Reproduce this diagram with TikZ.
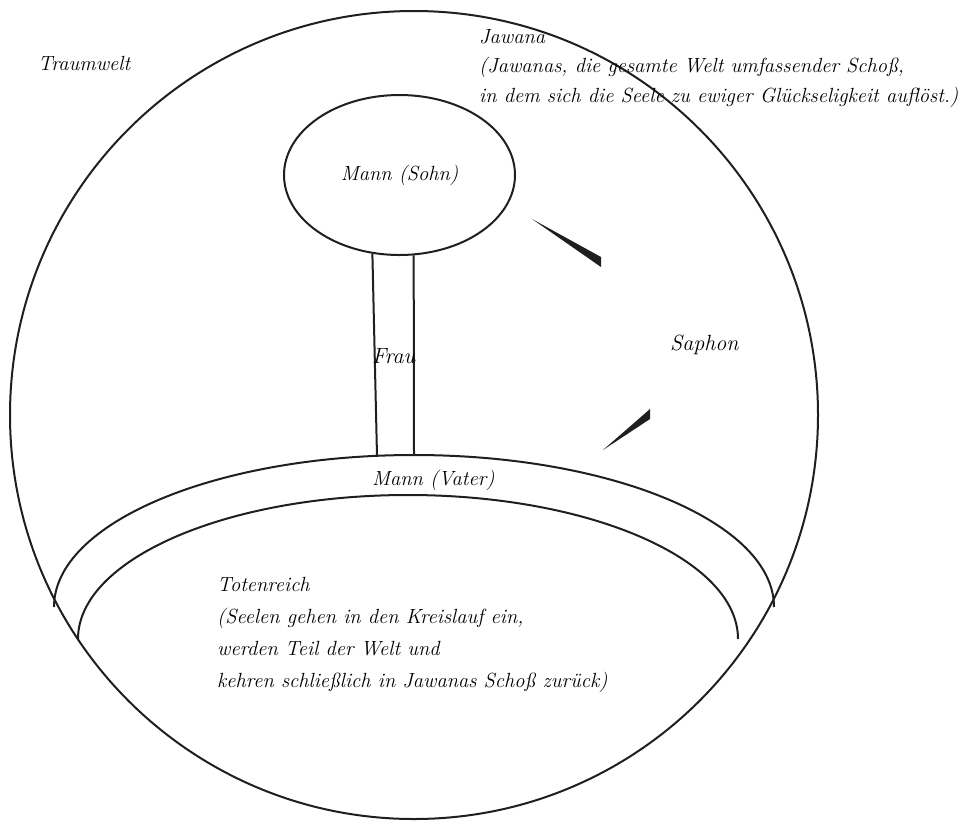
\documentclass[tikz,border=0pt]{standalone}
\usetikzlibrary{shapes.geometric}

\begin{document}
\begin{tikzpicture}[
    x=1pt, y=-1pt,
    rand/.style={draw=black!88, line width=2pt},
    schrift/.style={font=\fontsize{20.5}{30}\selectfont\itshape, inner sep=0pt,
                    align=left, text=black},
    kugel/.style={rand, ellipse, inner sep=0pt, minimum width=231pt,
                  minimum height=160pt},
    keil/.style={fill=black!88, draw=none},
]
\useasboundingbox (0,0) rectangle (971,820);
\draw[rand] (414,415) circle[radius=404pt];
\node[kugel, schrift] (sohn) at (399.5,175) {Mann (Sohn)};
\coordinate (bogenL) at (54,607);
\coordinate (innenL) at (78,639);
\draw[rand] (bogenL) arc[start angle=180, end angle=0, x radius=360pt, y radius=152pt];
\draw[rand] (innenL) arc[start angle=180, end angle=0, x radius=330pt, y radius=144pt];
\coordinate (fussL) at (377,456);
\coordinate (fussR) at (414,455);
\draw[rand] (sohn.251) -- (fussL);
\draw[rand] (sohn.280) -- (fussR);
\fill[keil] (532,219) -- (601,257) -- (601,267) -- cycle;
\fill[keil] (603,450) -- (650,409) -- (650,419) -- cycle;
\node[schrift, anchor=base west] (traum) at (38,70) {Traumwelt};
\node[schrift, anchor=north west, font=\fontsize{20.5}{29.5}\selectfont\itshape]
   (jawana) at (479,29)
   {Jawana\\ (Jawanas, die gesamte Welt umfassender Scho\ss,\\
    in dem sich die Seele zu ewiger Gl\"uckseligkeit aufl\"ost.)};
\node[schrift, anchor=base west, font=\fontsize{22}{30}\selectfont\itshape] (frau) at (372,363) {Frau};
\node[schrift, anchor=base west, font=\fontsize{22}{30}\selectfont\itshape] (saphon) at (670,350) {Saphon};
\node[schrift, anchor=base west] (vater) at (372,485) {Mann (Vater)};
\node[schrift, anchor=north west, font=\fontsize{20.5}{32}\selectfont\itshape]
   (toten) at (217,577)
   {Totenreich\\ (Seelen gehen in den Kreislauf ein,\\ werden Teil der Welt und\\
    kehren schlie\ss lich in Jawanas Scho\ss{} zur\"uck)};
\end{tikzpicture}
\end{document}
